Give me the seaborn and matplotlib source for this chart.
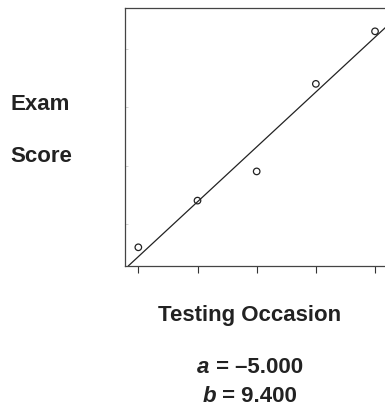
import numpy as np
import matplotlib
matplotlib.use('Agg')
import matplotlib.pyplot as plt
import seaborn as sns
import pandas as pd

# testing occasion vs exam score
occasion = [1, 2, 3, 4, 5]
score = [6, 14, 19, 34, 43]
a = -5.000
b = 9.400

sns.set_theme(style='white')
plt.rcParams['font.family'] = ['Liberation Sans', 'DejaVu Sans']

df = pd.DataFrame({'occasion': occasion, 'score': score})

fig = plt.figure(figsize=(3.85, 4.06), dpi=100)
ax = fig.add_axes([0.3247, 0.3424, 0.678, 0.6355])

sns.scatterplot(data=df, x='occasion', y='score', ax=ax, marker='o', s=22,
                facecolor='none', edgecolor='#222222', linewidth=0.9, zorder=3)
ax.axline((0, a), slope=b, color='#222222', linewidth=0.9)

ax.set_xlim(0.775, 5.186)
ax.set_ylim(2.8, 47.0)
ax.set_xticks(occasion)
ax.set_yticks([10, 20, 30, 40])
ax.set_xticklabels([])
ax.set_yticklabels([])
ax.tick_params(axis='x', direction='out', length=5, width=0.8, color='#333333', bottom=True)
ax.tick_params(axis='y', direction='in', length=2, width=0.6, color='#cccccc', left=True)
ax.set_xlabel('')
ax.set_ylabel('')
for s in ax.spines.values():
    s.set_color('#444444')
    s.set_linewidth(0.9)

fs = 16
txt = dict(fontsize=fs, fontweight='bold', color='#222222', va='center')
fig.text(10 / 385, 1 - 105 / 406, 'Exam', ha='left', **txt)
fig.text(10 / 385, 1 - 157 / 406, 'Score', ha='left', **txt)
fig.text(250 / 385, 1 - 316 / 406, 'Testing Occasion', ha='center', **txt)

# coefficient lines: italic letter + bold remainder, centred as a whole
fig.canvas.draw()
renderer = fig.canvas.get_renderer()
for letter, value, ypix in [('a', '%.3f' % a, 368), ('b', '%.3f' % b, 397)]:
    rest = ' = ' + value.replace('-', '\u2013')
    t1 = fig.text(0, 1 - ypix / 406, letter, ha='left', style='italic', **txt)
    t2 = fig.text(0, 1 - ypix / 406, rest, ha='left', **txt)
    w1 = t1.get_window_extent(renderer).width
    w2 = t2.get_window_extent(renderer).width
    x0 = 250 - (w1 + w2) / 2
    t1.set_x(x0 / 385)
    t2.set_x((x0 + w1) / 385)

fig.savefig('out.png', dpi=100)
